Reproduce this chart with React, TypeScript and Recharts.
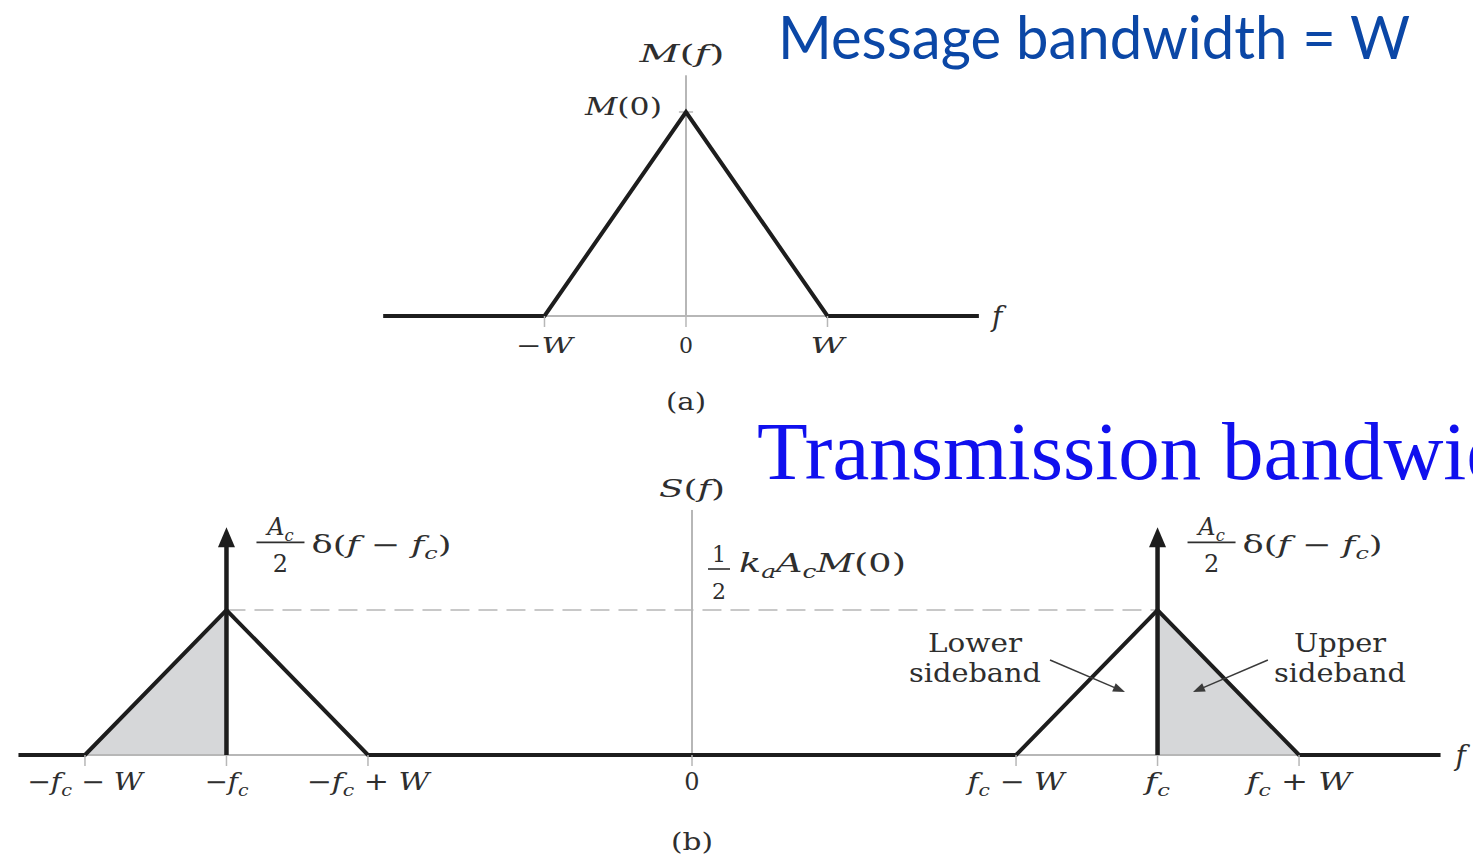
import React from 'react';
import {
  Area,
  ComposedChart,
  Line,
  ReferenceDot,
  ReferenceLine,
  XAxis,
  YAxis,
} from 'recharts';

const PAGE_W = 1473;
const PAGE_H = 855;

const SERIF = '"DejaVu Serif", "Liberation Serif", serif';
const INK = '#1d1d1d';
const GUIDE = '#b7b7b7';
const TEXT = '#2e2e2e';
const SHADE = '#d6d7d9';

// (a) message spectrum M(f), frequency in units of W
const msgFreq = [-2.14, -1, 0, 1, 2.07];
const msgLevel = [0, 0, 1, 0, 0];
const msgTicks = [-1, 0, 1];
const msgTickLabels = ['−W', '0', 'W'];
const msgAxisTop = 1.18;

// (b) AM spectrum S(f), carrier at ±fc with fc = 3.29 W
const FC = 3.29;
const amFreq = [-4.76, -4.29, -3.29, -2.29, 2.29, 3.29, 4.29, 5.29];
const amLevel = [0, 0, 1, 0, 0, 1, 0, 0];
const amShaded = [null, 0, 1, null, null, 1, 0, null];
const amTicks = [-4.29, -3.29, -2.29, 0, 2.29, 3.29, 4.29];
const amTickLabels = ['−f_c − W', '−f_c', '−f_c + W', '0', 'f_c − W', 'f_c', 'f_c + W'];
const carrierHeight = 1.57;
const amAxisTop = 1.69;

// rendered widths of the tick texts (px)
const MSG_TICK_W = [57, 0, 34];
const AM_TICK_W = [116, 44, 123, 0, 97, 25, 105];

// letters italic, "_x" drops x to a subscript
function mathRuns(src: string, size: number) {
  const out: React.ReactNode[] = [];
  const shift = size * 0.24;
  let lowered = false;
  for (let i = 0; i < src.length; i++) {
    let ch = src[i];
    let sub = false;
    if (ch === '_') {
      sub = true;
      ch = src[++i];
    }
    let dy = 0;
    if (sub && !lowered) {
      dy = shift;
      lowered = true;
    } else if (!sub && lowered) {
      dy = -shift;
      lowered = false;
    }
    out.push(
      <tspan
        key={i}
        dy={dy || undefined}
        fontSize={sub ? size * 0.68 : undefined}
        fontStyle={/[A-Za-z]/.test(ch) ? 'italic' : 'normal'}
      >
        {ch}
      </tspan>
    );
  }
  return out;
}

function MathText({ x, y, src, size = 24, anchor = 'start', width, plain = false }: any) {
  return (
    <text
      x={x}
      y={y}
      fontFamily={SERIF}
      fontSize={size}
      fill={TEXT}
      textAnchor={anchor}
      textLength={width || undefined}
      lengthAdjust={width ? 'spacingAndGlyphs' : undefined}
      style={{ whiteSpace: 'pre' }}
    >
      {plain ? src : mathRuns(src, size)}
    </text>
  );
}

function Fraction({ cx, y, num, den, size, bar }: any) {
  return (
    <g>
      <MathText x={cx} y={y} src={num} size={size} anchor="middle" />
      <line x1={cx - bar / 2} x2={cx + bar / 2} y1={y + 7} y2={y + 7} stroke={TEXT} strokeWidth={1.6} />
      <MathText x={cx} y={y + 37} src={den} size={size} anchor="middle" />
    </g>
  );
}

// line with a filled head at its (x2, y2) end
function Arrow({ x1, y1, x2, y2, stroke, strokeWidth, head, spread }: any) {
  const len = Math.hypot(x2 - x1, y2 - y1) || 1;
  const ux = (x2 - x1) / len;
  const uy = (y2 - y1) / len;
  const bx = x2 - ux * head;
  const by = y2 - uy * head;
  return (
    <g>
      <line x1={x1} y1={y1} x2={bx + ux * 2} y2={by + uy * 2} stroke={stroke} strokeWidth={strokeWidth} />
      <polygon
        points={`${x2},${y2} ${bx - uy * spread},${by + ux * spread} ${bx + uy * spread},${by - ux * spread}`}
        fill={stroke}
      />
    </g>
  );
}

// text placed relative to a point in data space
const note = (key: string, x: number, y: number, draw: (cx: number, cy: number) => React.ReactNode) => (
  <ReferenceDot
    key={key}
    x={x}
    y={y}
    r={0}
    ifOverflow="visible"
    shape={(p: any) => <g>{draw(p.cx, p.cy)}</g>}
  />
);

function MessageSpectrum() {
  const rows = msgFreq.map((f, i) => ({ f, m: msgLevel[i] }));
  return (
    <ComposedChart width={PAGE_W} height={440} data={rows} margin={{ top: 10, right: 0, bottom: 74, left: 0 }}>
      <XAxis
        type="number"
        dataKey="f"
        domain={[-4.848, 5.562]}
        ticks={msgTicks}
        interval={0}
        height={50}
        axisLine={false}
        tickSize={11}
        tickLine={{ stroke: GUIDE, strokeWidth: 1.5 }}
        tick={(p: any) => {
          const i = msgTicks.indexOf(p.payload.value);
          return <MathText x={p.x} y={p.y + 24} src={msgTickLabels[i]} size={22} anchor="middle" width={MSG_TICK_W[i]} />;
        }}
      />
      <YAxis type="number" domain={[0, 1.5]} hide />
      <ReferenceLine segment={[{ x: -1, y: 0 }, { x: 1, y: 0 }]} stroke={GUIDE} strokeWidth={2} />
      <ReferenceLine segment={[{ x: 0, y: 0 }, { x: 0, y: msgAxisTop }]} stroke={GUIDE} strokeWidth={2} />
      <ReferenceLine segment={[{ x: -0.05, y: 1 }, { x: 0.05, y: 1 }]} stroke={GUIDE} strokeWidth={1.5} />
      <Line
        dataKey="m"
        type="linear"
        stroke={INK}
        strokeWidth={4}
        dot={false}
        activeDot={false}
        isAnimationActive={false}
      />
      {note('mf', 0, msgAxisTop, (cx, cy) => (
        <MathText x={cx - 4} y={cy - 13} src="M(f)" size={24} anchor="middle" width={85} />
      ))}
      {note('m0', 0, 1, (cx, cy) => (
        <MathText x={cx - 24} y={cy + 3} src="M(0)" size={24} anchor="end" width={77} />
      ))}
      {note('fa', msgFreq[msgFreq.length - 1], 0, (cx, cy) => (
        <MathText x={cx + 13} y={cy + 10} src="f" size={28} />
      ))}
      {note('cap', 0, 0, (cx, cy) => (
        <MathText x={cx} y={cy + 94} src="(a)" size={24} anchor="middle" width={40} plain />
      ))}
    </ComposedChart>
  );
}

function ModulatedSpectrum() {
  const rows = amFreq.map((f, i) => ({ f, s: amLevel[i], sb: amShaded[i] }));
  const carrierArrow = (p: any) => <Arrow {...p} stroke={INK} strokeWidth={4.5} head={20} spread={8.5} />;
  const pointer = (p: any) => <Arrow {...p} stroke="#3a3a3a" strokeWidth={1.5} head={12} spread={4.5} />;
  const deltaLabel = (cx: number, cy: number) => (
    <g>
      <Fraction cx={cx + 54} y={cy + 8} num="A_c" den="2" size={24} bar={48} />
      <MathText x={cx + 85} y={cy + 26} src="δ(f − f_c)" size={24} width={140} />
    </g>
  );
  return (
    <ComposedChart width={PAGE_W} height={425} data={rows} margin={{ top: 35, right: 0, bottom: 50, left: 0 }}>
      <XAxis
        type="number"
        dataKey="f"
        domain={[-4.8905, 5.5194]}
        ticks={amTicks}
        interval={0}
        height={50}
        axisLine={false}
        tickSize={11}
        tickLine={{ stroke: GUIDE, strokeWidth: 1.5 }}
        tick={(p: any) => {
          const i = amTicks.indexOf(p.payload.value);
          return <MathText x={p.x} y={p.y + 22} src={amTickLabels[i]} size={24} anchor="middle" width={AM_TICK_W[i]} />;
        }}
      />
      <YAxis type="number" domain={[0, 2]} hide />
      <Area
        dataKey="sb"
        type="linear"
        stroke="none"
        fill={SHADE}
        fillOpacity={1}
        connectNulls={false}
        dot={false}
        activeDot={false}
        isAnimationActive={false}
      />
      <ReferenceLine segment={[{ x: -FC - 1, y: 0 }, { x: -FC + 1, y: 0 }]} stroke={GUIDE} strokeWidth={2} />
      <ReferenceLine segment={[{ x: FC - 1, y: 0 }, { x: FC + 1, y: 0 }]} stroke={GUIDE} strokeWidth={2} />
      <ReferenceLine segment={[{ x: 0, y: 0 }, { x: 0, y: amAxisTop }]} stroke={GUIDE} strokeWidth={2} />
      <ReferenceLine
        segment={[{ x: -FC, y: 1 }, { x: FC, y: 1 }]}
        stroke={GUIDE}
        strokeWidth={1.6}
        strokeDasharray="19 9"
      />
      <Line
        dataKey="s"
        type="linear"
        stroke={INK}
        strokeWidth={4}
        dot={false}
        activeDot={false}
        isAnimationActive={false}
      />
      <ReferenceLine segment={[{ x: -FC, y: 0 }, { x: -FC, y: carrierHeight }]} shape={carrierArrow} />
      <ReferenceLine segment={[{ x: FC, y: 0 }, { x: FC, y: carrierHeight }]} shape={carrierArrow} />
      <ReferenceLine segment={[{ x: 2.53, y: 0.655 }, { x: 3.06, y: 0.434 }]} shape={pointer} />
      <ReferenceLine segment={[{ x: 4.07, y: 0.655 }, { x: 3.54, y: 0.434 }]} shape={pointer} />
      {note('sf', 0, amAxisTop, (cx, cy) => (
        <MathText x={cx} y={cy - 13} src="S(f)" size={24} anchor="middle" width={66} />
      ))}
      {note('half', 0, 1, (cx, cy) => (
        <g>
          <Fraction cx={cx + 27} y={cy - 48} num="1" den="2" size={22} bar={22} />
          <MathText x={cx + 47} y={cy - 38} src="k_aA_cM(0)" size={26} width={167} />
        </g>
      ))}
      {note('dl', -FC, carrierHeight, deltaLabel)}
      {note('dr', FC, carrierHeight, deltaLabel)}
      {note('lsb', 2.0, 0.71, (cx, cy) => (
        <g>
          <MathText x={cx} y={cy} src="Lower" size={26} anchor="middle" width={94} plain />
          <MathText x={cx} y={cy + 30} src="sideband" size={26} anchor="middle" width={132} plain />
        </g>
      ))}
      {note('usb', 4.58, 0.71, (cx, cy) => (
        <g>
          <MathText x={cx} y={cy} src="Upper" size={26} anchor="middle" width={92} plain />
          <MathText x={cx} y={cy + 30} src="sideband" size={26} anchor="middle" width={132} plain />
        </g>
      ))}
      {note('fb', amFreq[amFreq.length - 1], 0, (cx, cy) => (
        <MathText x={cx + 15} y={cy + 10} src="f" size={28} />
      ))}
      {note('cap', 0, 0, (cx, cy) => (
        <MathText x={cx} y={cy + 95} src="(b)" size={24} anchor="middle" width={42} plain />
      ))}
    </ComposedChart>
  );
}

export default function App() {
  return (
    <div style={{ position: 'absolute', left: 0, top: 0, width: PAGE_W, height: PAGE_H, background: '#fff', overflow: 'hidden' }}>
      <div style={{ position: 'absolute', left: 0, top: 0 }}>
        <MessageSpectrum />
      </div>
      <div style={{ position: 'absolute', left: 0, top: 430 }}>
        <ModulatedSpectrum />
      </div>
      <svg width={PAGE_W} height={PAGE_H} style={{ position: 'absolute', left: 0, top: 0, pointerEvents: 'none' }}>
        <text
          x={778}
          y={59}
          fontFamily="Lato, 'Open Sans', sans-serif"
          fontSize={60}
          fill="#0b47a6"
          textLength={632}
          lengthAdjust="spacingAndGlyphs"
        >
          Message bandwidth = W
        </text>
        <text x={757} y={479} fontFamily='"Liberation Serif", serif' fontSize={83} fill="#1010ee">
          Transmission bandwidth
        </text>
      </svg>
    </div>
  );
}
